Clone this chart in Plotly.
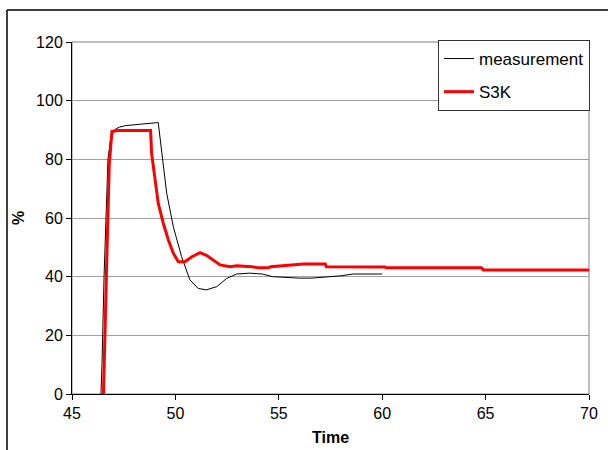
import plotly.graph_objects as go

# Measurement (black)
meas_t = [46.40, 46.45, 46.55, 46.65, 46.74, 46.85, 47.0, 47.1, 47.3, 47.6, 48.0, 48.4, 48.8, 49.1, 49.17,
          49.34, 49.58, 49.9, 50.3, 50.7, 51.1, 51.5, 52.0, 52.48, 52.96, 53.6, 54.2,
          54.7, 55.3, 56.0, 56.6, 57.5, 58.0, 58.6, 59.3, 60.0]
meas_v = [0.0, 10.0, 40.0, 65.0, 80.0, 86.0, 89.5, 90.3, 91.0, 91.5, 91.8, 92.2, 92.4, 92.5, 92.5,
          82.0, 68.4, 57.0, 46.8, 38.9, 36.0, 35.5, 36.6, 39.4, 40.9, 41.2, 40.9,
          40.0, 39.7, 39.5, 39.5, 39.9, 40.3, 40.9, 40.9, 40.9]

# S3K simulation (red)
s3k_t = [46.52, 46.56, 46.60, 46.66, 46.72, 46.80, 46.93, 47.2, 48.0, 48.80, 48.85, 49.01, 49.17, 49.41,
         49.66, 49.9, 50.14, 50.46, 50.8, 51.19, 51.5, 52.16, 52.64, 52.96, 53.7, 54.0, 54.5, 54.6, 55.4,
         55.9, 56.2, 57.25, 57.3, 60.15, 60.2, 64.8, 64.9, 70.0]
s3k_v = [0.0, 8.0, 22.0, 40.0, 60.0, 78.0, 89.5, 89.8, 89.8, 89.8, 82.0, 74.0, 65.0, 58.3,
         52.5, 48.0, 45.1, 45.1, 46.8, 48.2, 47.3, 44.0, 43.4, 43.7, 43.4, 43.0, 43.0, 43.4, 43.8,
         44.2, 44.3, 44.3, 43.4, 43.3, 43.0, 43.0, 42.3, 42.3]

x_ticks = [45, 50, 55, 60, 65, 70]
y_ticks = [0, 20, 40, 60, 80, 100, 120]

FONT = "Liberation Sans, Arial, sans-serif"

fig = go.Figure()
fig.add_trace(go.Scatter(x=meas_t, y=meas_v, mode="lines", name="measurement",
                         line=dict(color="black", width=1), legendgroup="a"))
fig.add_trace(go.Scatter(x=s3k_t, y=s3k_v, mode="lines", name="S3K",
                         line=dict(color="#ff0000", width=3), legendgroup="b"))

L, R, T, B = 72, 19, 42, 56
W, H = 608, 450
pw, ph = W - L - R, H - T - B

def px2paper(px, py):
    return (px - L) / pw, (H - B - py) / ph

x0, y0 = px2paper(7, 10)

fig.update_layout(
    width=W, height=H,
    margin=dict(l=L, r=R, t=T, b=B, autoexpand=False),
    paper_bgcolor="white", plot_bgcolor="white",
    font=dict(family=FONT, size=16, color="black"),
    showlegend=True,
    legend=dict(x=(590 - L) / pw, xanchor="right", y=px2paper(0, 40)[1], yanchor="top",
                bordercolor="#333333", borderwidth=1, bgcolor="white",
                font=dict(family=FONT, size=17), tracegroupgap=8, traceorder="grouped"),
    xaxis=dict(range=[45, 70], tickvals=x_ticks, showgrid=False, zeroline=False,
               showline=True, linecolor="black", linewidth=1,
               ticks="outside", ticklen=5, tickcolor="black", automargin=False,
               title=dict(text="<b>Time</b>", font=dict(size=16), standoff=10)),
    yaxis=dict(range=[0, 120], tickvals=y_ticks, showgrid=True, gridcolor="#a0a0a0", gridwidth=1,
               zeroline=False, showline=True, linecolor="black", linewidth=1,
               ticks="outside", ticklen=5, tickcolor="black", automargin=False,
               title=dict(text="<b>%</b>", font=dict(size=16), standoff=7)),
    shapes=[
        dict(type="rect", xref="paper", yref="paper", x0=0, y0=0, x1=1, y1=1,
             line=dict(color="#808080", width=1), layer="below"),
        dict(type="line", xref="paper", yref="paper", x0=x0, y0=y0, x1=1.2, y1=y0,
             line=dict(color="black", width=1.5)),
        dict(type="line", xref="paper", yref="paper", x0=x0, y0=y0, x1=x0, y1=-0.3,
             line=dict(color="black", width=1.5)),
    ],
)

fig.write_html("out.html", config={"displayModeBar": False},
               post_script="document.body.style.margin='0';document.body.style.overflow='hidden';")
